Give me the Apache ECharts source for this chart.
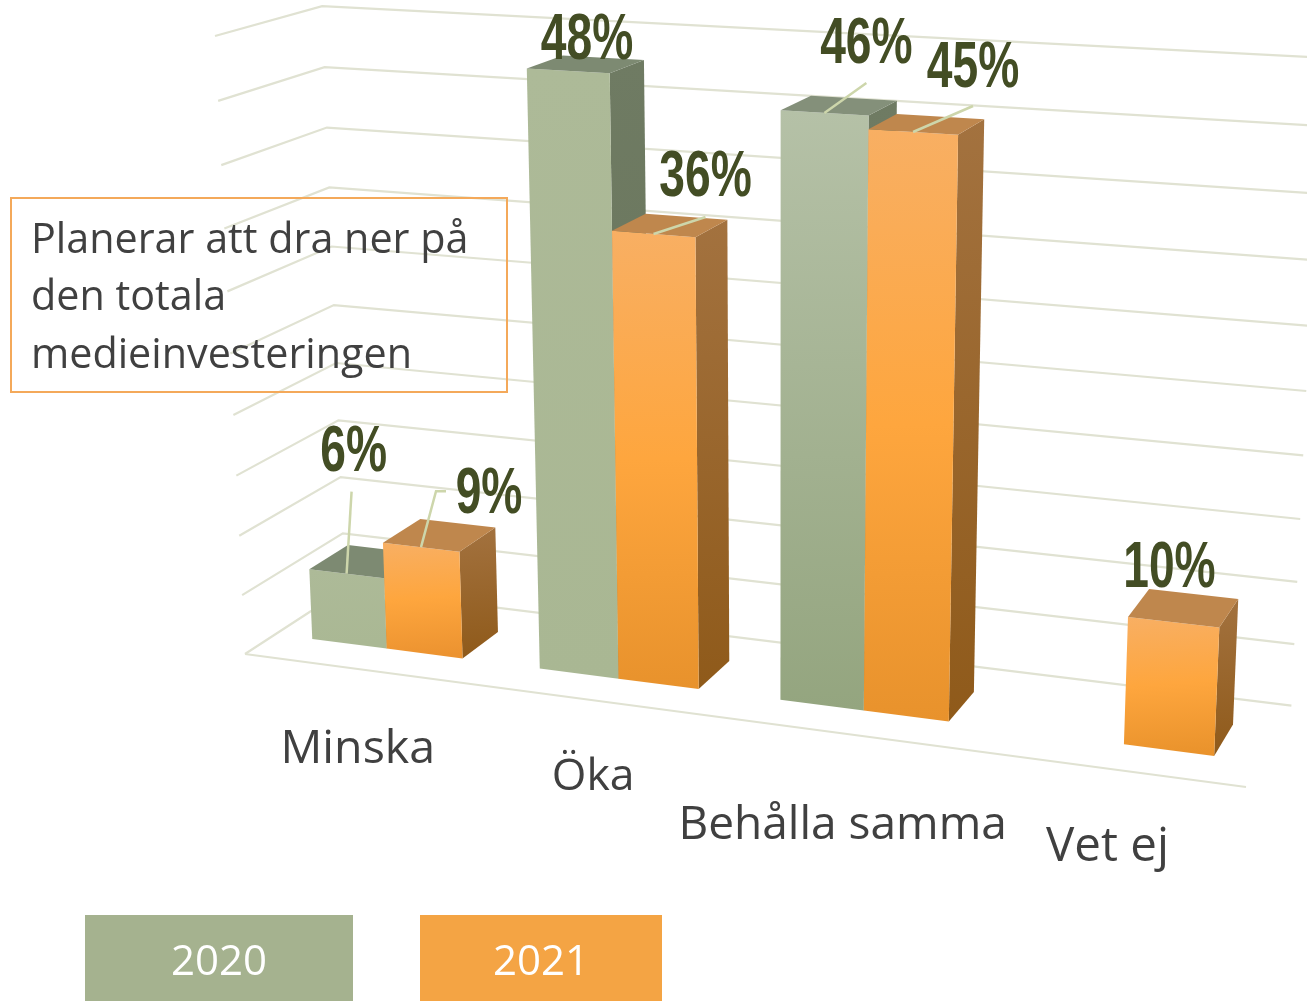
<!DOCTYPE html>
<html lang="sv">
<head>
<meta charset="utf-8">
<title>Planerar att dra ner på den totala medieinvesteringen</title>
<style>html,body{margin:0;padding:0;background:#fff}#c{width:1307px;height:1001px}</style>
<script src="https://cdn.jsdelivr.net/npm/echarts@6/dist/echarts.min.js"></script>
</head>
<body>
<div id="c"></div>
<script>
// ---- data ----
const categories = ['Minska', 'Öka', 'Behålla samma', 'Vet ej'];
const seriesNames = ['2020', '2021'];
const values2020 = [6, 48, 46, null];
const values2021 = [9, 36, 45, 10];
const axisTicks = [0, 5, 10, 15, 20, 25, 30, 35, 40, 45, 50];
const noteLines = ['Planerar att dra ner på', 'den totala', 'medieinvesteringen'];

// ---- layout: label placement relative to the top of each bar (px) ----
const labelOffset2020 = [[7, -121], [19, -30], [42, -68], null];
const labelOffset2021 = [[68, -52], [52, -56], [60, -63], [-4, -53]];
const leaderOffset2020 = [[[5, -82]], null, [[42, -30]], null];
const leaderOffset2021 = [[[15, -56], [25, -56]], [[52, -17]], [[60, -26]], null];
const categoryLabelDrop = [81, 77, 92, 79];
const categoryFontSize = [46.5, 44.5, 46, 47.5];

// ---- perspective of the box the chart is drawn in ----
const CORNER_O = [245, 654], CORNER_A = [1246, 787], CORNER_D = [345, 589], CORNER_H = [215, 36];
const WA = 0.889, WD = 1.063, WH = 0.9466;
const DEPTH_FRONT = 0.2927, DEPTH_BACK = 0.683;

function project(a, d, h) {
  const den = 1 + a * (WA - 1) + d * (WD - 1) + h * (WH - 1);
  return [0, 1].map(i => (CORNER_O[i]
    + a * (WA * CORNER_A[i] - CORNER_O[i])
    + d * (WD * CORNER_D[i] - CORNER_O[i])
    + h * (WH * CORNER_H[i] - CORNER_O[i])) / den);
}

// ---- styles ----
const FONT = '"Open Sans","Noto Sans",sans-serif';
const gridColor = '#e0e2d2';
const leaderColor = '#cdd6ab';
const valueColor = '#434d24';
const textColor = '#404040';
const legendColors = ['#a5b28f', '#f4a444'];
const frontStops = [
  [['#adba98', '#aab894'], ['#adba98', '#a9b793'], ['#b5c1a7', '#94a57f'], ['#adba98', '#a9b793']],
  [['#f8af63', '#fea63e', '#ec9330'], ['#f8af63', '#fea63e', '#e8922c'], ['#f8af63', '#fea63e', '#e8922c'], ['#f8af63', '#fea63e', '#ea932c']]
];
const topColor = [['#7d8a72', '#7d8a72', '#84907a', '#7d8a72'], ['#bf874d', '#bf874d', '#bf874d', '#bf874d']];
const sideStops = [['#6f7b63', '#687459'], ['#a3723f', '#8f5a1a']];

function grad(stops, x2) {
  return {
    type: 'linear', x: 0, y: 0, x2: x2 || 0, y2: 1,
    colorStops: stops.map((c, i) => ({ offset: i / (stops.length - 1), color: c }))
  };
}

// converts library scale positions to the box's fractions
function frac(api, params, cat, value) {
  const p = api.coord([cat, value]);
  const band = api.size([1, 0])[0];
  return { a: (p[0] - params.coordSys.x) / params.coordSys.width,
           h: 1 - (p[1] - params.coordSys.y) / params.coordSys.height,
           band: band / params.coordSys.width };
}

function barEdges(f, s) {           // s = 0 / 1, each bar a third of the category band
  const a0 = f.a - f.band / 3 + s * f.band / 3;
  return [a0, a0 + f.band / 3];
}

function renderBar(s) {
  return function (params, api) {
    const cat = api.value(0), v = api.value(1);
    const f = frac(api, params, cat, v);
    const [a0, a1] = barEdges(f, s);
    const F = DEPTH_FRONT, B = DEPTH_BACK, h = f.h;
    const poly = (pts, fill) => ({ type: 'polygon', shape: { points: pts }, style: { fill: fill, stroke: null } });
    return {
      type: 'group',
      children: [
        poly([project(a1, F, h), project(a1, B, h), project(a1, B, 0), project(a1, F, 0)], grad(sideStops[s], 0.25)),
        poly([project(a0, F, h), project(a1, F, h), project(a1, F, 0), project(a0, F, 0)], grad(frontStops[s][cat], 0.1)),
        poly([project(a0, F, h), project(a0, B, h), project(a1, B, h), project(a1, F, h)], topColor[s][cat])
      ]
    };
  };
}

function renderValueLabel(s, offsets, leaders) {
  return function (params, api) {
    const cat = api.value(0), v = api.value(1);
    const f = frac(api, params, cat, v);
    const [a0, a1] = barEdges(f, s);
    const anchor = project((a0 + a1) / 2, DEPTH_FRONT, f.h);
    const off = offsets[cat];
    const children = [];
    if (leaders[cat]) {
      children.push({
        type: 'polyline',
        shape: { points: [anchor].concat(leaders[cat].map(o => [anchor[0] + o[0], anchor[1] + o[1]])) },
        style: { stroke: leaderColor, lineWidth: 2.5, fill: null }
      });
    }
    children.push({
      type: 'text', x: anchor[0] + off[0], y: anchor[1] + off[1], scaleX: 0.71,
      style: {
        text: v + '%', fontFamily: '"Liberation Sans",Arial,sans-serif', fontWeight: 'bold', fontSize: 65,
        fill: valueColor, align: 'center', verticalAlign: 'middle'
      }
    });
    return { type: 'group', children: children };
  };
}

function toData(values) {
  return values.map((v, i) => v == null ? null : [i, v]).filter(Boolean);
}

const option = {
  animation: false,
  grid: { left: 0, right: 0, top: 0, bottom: 0 },
  xAxis: { type: 'category', data: categories, show: false },
  yAxis: { type: 'value', min: 0, max: 50, interval: 5, show: false },
  series: [
    {
      type: 'custom', name: 'axis', silent: true, clip: false, z: 1,
      data: axisTicks.map(t => [0, t]),
      renderItem(params, api) {
        const h = frac(api, params, 0, api.value(1)).h;
        const pts = [project(0, 0, h), project(0, 1, h), project(1, 1, h)];
        const children = [{ type: 'polyline', shape: { points: pts }, style: { stroke: gridColor, lineWidth: 2.2, fill: null } }];
        if (h === 0) {
          children.push({ type: 'line', shape: { x1: project(0, 0, 0)[0], y1: project(0, 0, 0)[1], x2: project(1, 0, 0)[0], y2: project(1, 0, 0)[1] },
            style: { stroke: gridColor, lineWidth: 2.2 } });
        }
        return { type: 'group', children: children };
      }
    },
    { type: 'custom', name: seriesNames[0], silent: true, clip: false, z: 2, data: toData(values2020), renderItem: renderBar(0) },
    { type: 'custom', name: seriesNames[1], silent: true, clip: false, z: 3, data: toData(values2021), renderItem: renderBar(1) },
    { type: 'custom', name: 'etiketter 2020', silent: true, clip: false, z: 4, data: toData(values2020), renderItem: renderValueLabel(0, labelOffset2020, leaderOffset2020) },
    { type: 'custom', name: 'etiketter 2021', silent: true, clip: false, z: 4, data: toData(values2021), renderItem: renderValueLabel(1, labelOffset2021, leaderOffset2021) },
    {
      type: 'custom', name: 'kategorier', silent: true, clip: false, z: 4,
      data: categories.map((c, i) => [i, 0]),
      renderItem(params, api) {
        const cat = api.value(0);
        const f = frac(api, params, cat, 0);
        const p = project(f.a, 0, 0);
        return {
          type: 'text', x: p[0], y: p[1] + categoryLabelDrop[cat],
          style: { text: categories[cat], fontFamily: FONT, fontSize: categoryFontSize[cat], fill: textColor, align: 'center', verticalAlign: 'middle' }
        };
      }
    }
  ],
  graphic: [
    { type: 'rect', z: 5, shape: { x: 11, y: 198, width: 496, height: 194 }, style: { fill: null, stroke: '#f4a95a', lineWidth: 2 } },
    { type: 'text', z: 5, x: 31, y: 212, style: { text: noteLines.join('\n'), fontFamily: FONT, fontSize: 41.3, lineHeight: 57.5, fill: textColor, align: 'left', verticalAlign: 'top' } },
    { type: 'rect', z: 5, shape: { x: 85, y: 915, width: 268, height: 86 }, style: { fill: legendColors[0] } },
    { type: 'text', z: 6, x: 219, y: 963, style: { text: seriesNames[0], fontFamily: FONT, fontSize: 42, fill: '#fff', align: 'center', verticalAlign: 'middle' } },
    { type: 'rect', z: 5, shape: { x: 420, y: 915, width: 242, height: 86 }, style: { fill: legendColors[1] } },
    { type: 'text', z: 6, x: 541, y: 963, style: { text: seriesNames[1], fontFamily: FONT, fontSize: 42, fill: '#fff', align: 'center', verticalAlign: 'middle' } }
  ]
};
echarts.init(document.getElementById('c'), null, { renderer: 'canvas', width: 1307, height: 1001 }).setOption(option);
</script>
</body>
</html>
